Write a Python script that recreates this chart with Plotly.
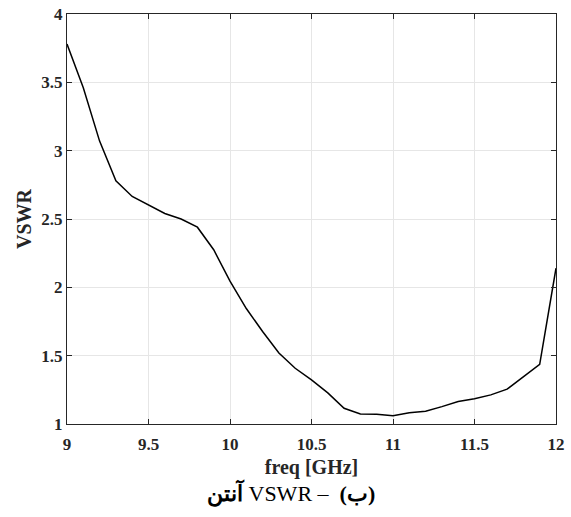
import plotly.graph_objects as go

freq = [9.0, 9.1, 9.2, 9.3, 9.4, 9.5, 9.6, 9.7, 9.8, 9.9,
        10.0, 10.1, 10.2, 10.3, 10.4, 10.5, 10.6, 10.7, 10.8, 10.9,
        11.0, 11.1, 11.2, 11.3, 11.4, 11.5, 11.6, 11.7, 11.8, 11.9, 12.0]
vswr = [3.78, 3.46, 3.07, 2.78, 2.665, 2.60, 2.54, 2.50, 2.44, 2.275,
        2.045, 1.845, 1.677, 1.52, 1.408, 1.323, 1.228, 1.115, 1.074, 1.072,
        1.06, 1.083, 1.093, 1.127, 1.164, 1.184, 1.213, 1.255, 1.347, 1.437, 2.14]

x_ticks = [9, 9.5, 10, 10.5, 11, 11.5, 12]
x_labels = ["9", "9.5", "10", "10.5", "11", "11.5", "12"]
y_ticks = [1, 1.5, 2, 2.5, 3, 3.5, 4]
y_labels = ["1", "1.5", "2", "2.5", "3", "3.5", "4"]

# caption (written in left-to-right display order)
caption = "<b>آنتن</b> VSWR –  <b>(ب)</b>"

fig = go.Figure()
fig.add_trace(go.Scatter(x=freq, y=vswr, mode="lines",
                         line=dict(color="black", width=1.5), showlegend=False))

axis_common = dict(showline=True, linecolor="#262626", linewidth=1.2, mirror="ticks",
                   ticks="inside", ticklen=5, tickwidth=1, tickcolor="#262626",
                   showgrid=True, gridcolor="#e6e6e6", gridwidth=1, zeroline=False,
                   automargin=False,
                   tickfont=dict(family="Liberation Serif", size=17, color="#262626"))

fig.update_xaxes(range=[9, 12], tickvals=x_ticks,
                 ticktext=["<b>" + t + "</b>" for t in x_labels],
                 ticklabelstandoff=4,
                 title=dict(text="<b>freq [GHz]</b>", font=dict(family="Liberation Serif", size=20, color="#262626"), standoff=7),
                 **axis_common)
fig.update_yaxes(range=[1, 4], tickvals=y_ticks,
                 ticktext=["<b>" + t + "</b>" for t in y_labels],
                 title=dict(text="<b>VSWR</b>", font=dict(family="Liberation Serif", size=20, color="#262626"), standoff=4),
                 **axis_common)
fig.update_layout(
    width=571, height=517,
    margin=dict(l=67, r=15, t=14, b=93),
    plot_bgcolor="white", paper_bgcolor="white",
    font=dict(family="Liberation Serif", color="#262626"),
    annotations=[dict(text=caption, xref="paper", yref="paper",
                      x=0.458, y=-0.168, xanchor="center", yanchor="middle", showarrow=False,
                      font=dict(family="Liberation Serif", size=22, color="black"))],
)

fig.write_html("out.html", config={"displayModeBar": False},
               post_script="document.body.style.margin='0';")
